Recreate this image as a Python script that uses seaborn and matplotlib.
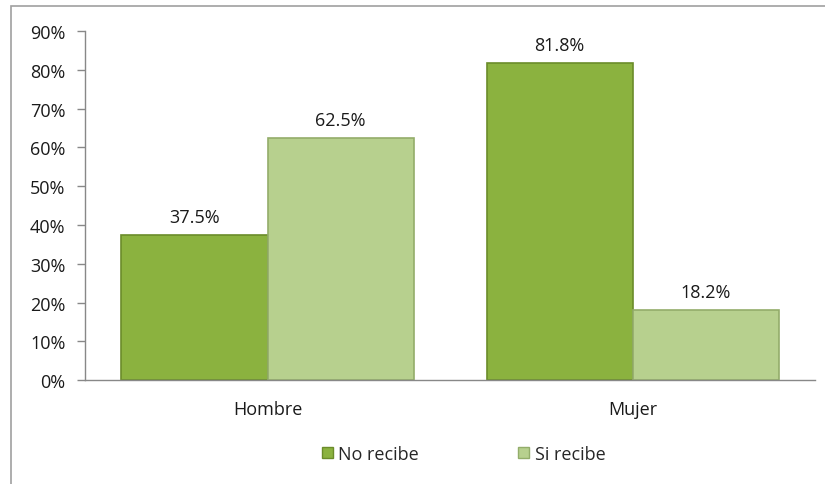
import pandas as pd
import matplotlib
matplotlib.use("Agg")
import matplotlib.pyplot as plt
import matplotlib.patches as mpatches
import seaborn as sns

# data
sexo = ["Hombre", "Mujer"]
no_recibe = [37.5, 81.8]
si_recibe = [62.5, 18.2]
series = ["No recibe", "Si recibe"]
colores = ["#8bb23f", "#b7d08e"]
bordes = ["#6b8c2a", "#93ad6a"]

df = pd.DataFrame({
    "sexo": sexo * 2,
    "valor": no_recibe + si_recibe,
    "serie": [series[0]] * len(sexo) + [series[1]] * len(sexo),
})

sns.set_style("white")
plt.rcParams["font.family"] = ["Open Sans", "DejaVu Sans"]
fs = 13

fig = plt.figure(figsize=(8.25, 4.85), dpi=100)
ax = fig.add_axes([0.103, 0.214, 0.885, 0.72])

sns.barplot(data=df, x="sexo", y="valor", hue="serie", palette=colores,
            saturation=1, width=0.8, ax=ax, legend=False)

for cont, borde in zip(ax.containers, bordes):
    for bar in cont:
        bar.set_edgecolor(borde)
        bar.set_linewidth(1.2)
    ax.bar_label(cont, labels=[f"{v:.1f}%" for v in cont.datavalues],
                 padding=6, fontsize=fs, color="#1a1a1a")

ax.set_ylim(0, 90)
ax.set_yticks(range(0, 91, 10))
ax.set_yticklabels([f"{t}%" for t in range(0, 91, 10)], fontsize=fs, color="#1a1a1a")
ax.tick_params(axis="x", labelsize=fs, colors="#1a1a1a", length=0, pad=14)
ax.tick_params(axis="y", length=6, width=1, color="#888888", left=True, pad=8)
ax.set_xlabel("")
ax.set_ylabel("")
for s in ["top", "right"]:
    ax.spines[s].set_visible(False)
for s in ["left", "bottom"]:
    ax.spines[s].set_color("#888888")
    ax.spines[s].set_linewidth(1)

handles = [mpatches.Patch(facecolor=c, edgecolor=b, label=l)
           for c, b, l in zip(colores, bordes, series)]
fig.legend(handles=handles, loc="center", bbox_to_anchor=(0.562, 0.062), ncol=2,
           frameon=False, fontsize=fs, handlelength=0.6, handleheight=0.6,
           handletextpad=0.3, columnspacing=5.5)

# outer frame of the chart area
fig.patches.append(mpatches.Rectangle((0.013, -0.01), 1.0, 0.995, transform=fig.transFigure,
                                      fill=False, edgecolor="#a0a0a0", linewidth=1.2))

fig.savefig("out.png", dpi=100, facecolor="white")
